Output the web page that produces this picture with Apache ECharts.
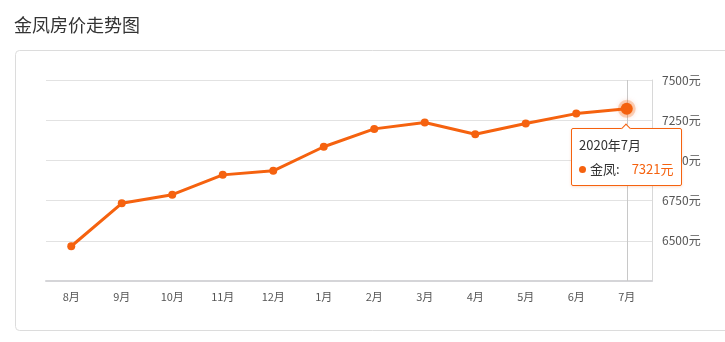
<!DOCTYPE html>
<html>
<head>
<meta charset="utf-8">
<script src="https://cdn.jsdelivr.net/npm/echarts@6/dist/echarts.min.js"></script>
<style>
html,body{margin:0;padding:0;background:#fff;}
#chart{width:725px;height:342px;}
</style>
</head>
<body>
<div id="chart"></div>
<script>
var titleText = '金凤房价走势图';
var seriesName = '金凤';
var categories = ['8月','9月','10月','11月','12月','1月','2月','3月','4月','5月','6月','7月'];
var fullLabels = ['2019年8月','2019年9月','2019年10月','2019年11月','2019年12月','2020年1月','2020年2月','2020年3月','2020年4月','2020年5月','2020年6月','2020年7月'];
var prices = [6466, 6733, 6787, 6910, 6935, 7085, 7196, 7236, 7163, 7229, 7291, 7321];
var yTicks = [6250, 6500, 6750, 7000, 7250, 7500];
var unit = '元';

var ORANGE = '#f5620f';
var FONT = '"Noto Sans CJK SC", "Noto Sans", sans-serif';
var lastIdx = prices.length - 1;

var seriesData = prices.map(function (v, i) {
  if (i !== lastIdx) return v;
  return {
    value: v,
    symbolSize: 12,
    itemStyle: {
      color: ORANGE,
      borderColor: 'rgba(245,98,15,0.25)',
      borderWidth: 6,
      shadowBlur: 6,
      shadowColor: 'rgba(245,98,15,0.3)'
    }
  };
});

var chart = echarts.init(document.getElementById('chart'), null, {renderer: 'canvas'});
chart.setOption({
  animation: false,
  textStyle: {fontFamily: FONT},
  title: {
    text: titleText,
    left: 9,
    top: 11,
    textStyle: {fontSize: 18, fontWeight: 'normal', color: '#333', fontFamily: FONT}
  },
  graphic: [{
    type: 'rect',
    silent: true,
    z: -10,
    shape: {x: 15.5, y: 50.5, width: 730, height: 280, r: 4},
    style: {fill: 'none', stroke: '#dcdcdc', lineWidth: 1}
  }],
  grid: {left: 46, right: 73, top: 80, bottom: 61, containLabel: false},
  tooltip: {
    trigger: 'item',
    triggerOn: 'none',
    alwaysShowContent: true,
    position: 'bottom',
    transitionDuration: 0,
    backgroundColor: '#fff',
    borderColor: ORANGE,
    borderWidth: 1,
    padding: [4, 7],
    textStyle: {color: '#333', fontSize: 13, fontFamily: FONT},
    extraCssText: 'box-shadow: 0 1px 3px rgba(245,98,15,0.2); border-radius: 2px; border-color: ' + ORANGE + ' !important;',
    formatter: function (p) {
      var dot = '<span style="display:inline-block;width:7px;height:7px;border-radius:50%;background:' + ORANGE + ';margin-right:4px;vertical-align:middle;position:relative;top:-1px"></span>';
      return '<div style="line-height:24px">' + fullLabels[p.dataIndex] + '</div>' +
        '<div style="line-height:24px">' + dot + p.seriesName + ':' +
        '<span style="color:' + ORANGE + ';margin-left:12px">' + prices[p.dataIndex] + unit + '</span></div>';
    }
  },
  xAxis: {
    type: 'category',
    data: categories,
    boundaryGap: true,
    axisLine: {lineStyle: {color: '#d5d5d8', width: 2}},
    axisTick: {alignWithLabel: true, length: 4, lineStyle: {color: '#d5d5d8'}},
    axisLabel: {color: '#555', fontSize: 11, margin: 10, fontFamily: FONT},
    splitLine: {show: false}
  },
  yAxis: {
    type: 'value',
    position: 'right',
    min: yTicks[0],
    max: yTicks[yTicks.length - 1],
    interval: yTicks[1] - yTicks[0],
    axisLine: {show: true, lineStyle: {color: '#d8d8d8', width: 1}},
    axisTick: {show: false},
    axisLabel: {
      color: '#555', fontSize: 12, margin: 10, fontFamily: FONT,
      showMinLabel: false,
      formatter: function (v) { return v + unit; }
    },
    splitLine: {lineStyle: {color: '#e2e2e2', width: 1}}
  },
  series: [{
    name: seriesName,
    type: 'line',
    data: seriesData,
    symbol: 'circle',
    symbolSize: 8,
    showSymbol: true,
    lineStyle: {color: ORANGE, width: 3},
    itemStyle: {color: ORANGE},
    emphasis: {disabled: true},
    markLine: {
      silent: true,
      z: 1,
      symbol: 'none',
      label: {show: false},
      lineStyle: {color: '#c8c8c8', width: 1, type: 'solid'},
      emphasis: {disabled: true},
      data: [{xAxis: categories[lastIdx]}]
    },
    z: 3
  }]
});

chart.dispatchAction({type: 'showTip', seriesIndex: 0, dataIndex: lastIdx});
</script>
</body>
</html>
